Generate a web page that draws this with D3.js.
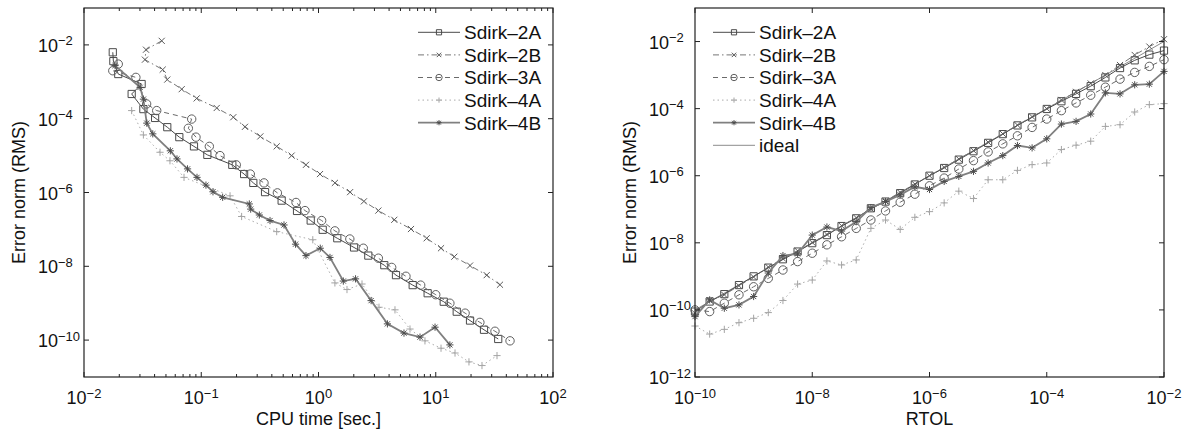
<!DOCTYPE html>
<html>
<head>
<meta charset="utf-8">
<script src="https://cdn.jsdelivr.net/npm/d3@7"></script>
<style>
  body { margin: 0; background: #fff; }
  svg text { font-family: "Liberation Sans", Arial, Helvetica, sans-serif; fill: #111; }
</style>
</head>
<body>
<svg id="chart" width="1188" height="435"></svg>
<script>
// ---- left panel: CPU time [sec.] vs error (errors kept as log10 exponents)
var time2A = [0.0176, 0.0178, 0.0196, 0.0310, 0.0255, 0.0321, 0.0404, 0.0513, 0.0650, 0.0867, 0.1127, 0.184, 0.232, 0.278, 0.350, 0.485, 0.656, 0.858, 1.086, 1.446, 2.01, 2.66, 3.64, 4.58, 6.36, 8.53, 11.7, 15.1, 19.6, 25.8, 34.1];
var err2A  = [-2.20, -2.44, -2.79, -3.06, -3.33, -3.74, -3.98, -4.23, -4.50, -4.75, -4.98, -5.25, -5.50, -5.74, -5.99, -6.22, -6.50, -6.76, -7.01, -7.24, -7.49, -7.71, -7.97, -8.24, -8.51, -8.73, -8.96, -9.23, -9.47, -9.72, -9.97];

var time2B = [0.0460, 0.0338, 0.0331, 0.0469, 0.0513, 0.0681, 0.0914, 0.1355, 0.1876, 0.236, 0.319, 0.440, 0.590, 0.782, 1.03, 1.38, 1.86, 2.44, 3.24, 4.43, 6.15, 8.37, 11.09, 14.4, 19.6, 27.2, 35.3];
var err2B  = [-1.89, -2.13, -2.40, -2.67, -2.94, -3.20, -3.45, -3.71, -3.96, -4.22, -4.48, -4.75, -5.00, -5.25, -5.50, -5.74, -5.99, -6.24, -6.49, -6.74, -6.99, -7.24, -7.51, -7.74, -7.98, -8.24, -8.50];

var time3A = [0.0196, 0.0176, 0.0277, 0.0342, 0.0417, 0.0829, 0.0776, 0.0902, 0.1172, 0.1445, 0.199, 0.262, 0.343, 0.446, 0.643, 0.767, 1.064, 1.38, 1.85, 2.41, 3.24, 4.21, 5.57, 7.44, 10.0, 13.2, 17.8, 23.8, 32.0, 43.0];
var err3A  = [-2.52, -2.70, -2.88, -3.60, -3.78, -4.01, -4.26, -4.50, -4.75, -5.00, -5.25, -5.50, -5.74, -6.01, -6.27, -6.49, -6.76, -7.04, -7.26, -7.51, -7.78, -8.03, -8.27, -8.51, -8.77, -9.00, -9.27, -9.52, -9.76, -10.02];

var time4A = [0.0255, 0.0321, 0.0445, 0.0541, 0.0713, 0.176, 0.221, 0.440, 0.894, 1.38, 1.75, 2.35, 3.28, 4.49, 6.03, 8.09, 11.09, 14.6, 19.2, 24.8, 33.3];
var err4A  = [-3.78, -4.44, -4.91, -5.14, -5.59, -6.09, -6.65, -7.06, -7.28, -8.45, -8.63, -8.48, -9.11, -9.18, -9.70, -10.02, -10.22, -10.35, -10.59, -10.69, -10.42];

var time4B = [0.0184, 0.0301, 0.0321, 0.0343, 0.0386, 0.0545, 0.0621, 0.0764, 0.0920, 0.1097, 0.1259, 0.1523, 0.257, 0.264, 0.313, 0.386, 0.508, 0.637, 0.782, 1.035, 1.253, 1.628, 2.07, 2.81, 3.87, 5.36, 7.34, 9.86, 13.2];
var err4B  = [-2.56, -3.15, -3.47, -4.12, -4.41, -4.87, -5.09, -5.36, -5.59, -5.80, -5.98, -6.13, -6.31, -6.45, -6.61, -6.76, -6.88, -7.40, -7.71, -7.51, -7.76, -8.40, -8.34, -8.93, -9.56, -9.81, -9.92, -9.65, -10.13];

// ---- right panel: RTOL vs error (log10 exponents)
var rtolExp = [-10, -9.75, -9.5, -9.25, -9, -8.75, -8.5, -8.25, -8, -7.75, -7.5, -7.25, -7, -6.75, -6.5, -6.25, -6, -5.75, -5.5, -5.25, -5, -4.75, -4.5, -4.25, -4, -3.75, -3.5, -3.25, -3, -2.75, -2.5, -2.25, -2];
var rtol2A = [-10.05, -9.75, -9.53, -9.26, -9.00, -8.74, -8.49, -8.26, -8.01, -7.77, -7.50, -7.27, -6.97, -6.77, -6.52, -6.26, -6.00, -5.77, -5.52, -5.27, -5.02, -4.76, -4.50, -4.26, -4.01, -3.78, -3.56, -3.33, -3.07, -2.79, -2.56, -2.39, -2.27];
var rtol2B = [-10.10, -9.72, -9.55, -9.28, -9.02, -8.72, -8.47, -8.24, -7.99, -7.75, -7.49, -7.25, -6.99, -6.75, -6.50, -6.25, -6.00, -5.75, -5.50, -5.25, -5.00, -4.75, -4.49, -4.24, -4.00, -3.74, -3.50, -3.25, -3.00, -2.70, -2.40, -2.15, -1.93];
var rtol3A = [-10.00, -10.05, -9.80, -9.55, -9.31, -9.06, -8.81, -8.56, -8.31, -8.06, -7.82, -7.57, -7.32, -7.05, -6.79, -6.55, -6.30, -6.07, -5.80, -5.55, -5.29, -5.05, -4.81, -4.56, -4.31, -4.06, -3.83, -3.60, -3.36, -3.12, -2.92, -2.74, -2.54];
var rtol4A = [-10.48, -10.72, -10.58, -10.38, -10.25, -10.08, -9.72, -9.23, -9.11, -8.54, -8.66, -8.51, -7.57, -7.32, -7.60, -7.24, -7.07, -6.81, -6.46, -6.68, -6.12, -6.12, -5.84, -5.67, -5.62, -5.22, -5.09, -4.97, -4.53, -4.48, -4.10, -3.88, -3.85];
var rtol4B = [-10.20, -9.70, -9.95, -9.85, -9.60, -8.90, -8.38, -8.33, -7.77, -7.53, -7.65, -7.37, -6.95, -6.77, -6.57, -6.33, -6.41, -6.17, -6.02, -5.87, -5.62, -5.40, -5.10, -5.17, -4.90, -4.46, -4.38, -4.16, -3.53, -3.56, -3.29, -3.27, -2.89];
var idealExp = [-10, -2];

// tick labels (exponents of 10)
var leftXTicks = [-2, -1, 0, 1, 2];
var leftYTicks = [-10, -8, -6, -4, -2];
var rightXTicks = [-10, -8, -6, -4, -2];
var rightYTicks = [-12, -10, -8, -6, -4, -2];

var seriesNames = ["Sdirk-2A", "Sdirk-2B", "Sdirk-3A", "Sdirk-4A", "Sdirk-4B"];

var styles = {
    "Sdirk-2A": {color: "#4a4a4a", mcolor: "#4a4a4a", width: 1, dash: null, marker: "square"},
    "Sdirk-2B": {color: "#767676", mcolor: "#5a5a5a", width: 1, dash: "6,3,1.5,3", marker: "cross"},
    "Sdirk-3A": {color: "#6a6a6a", mcolor: "#5e5e5e", width: 1, dash: "5,4", marker: "circle"},
    "Sdirk-4A": {color: "#acacac", mcolor: "#a4a4a4", width: 1, dash: "1.5,3", marker: "plus"},
    "Sdirk-4B": {color: "#808080", mcolor: "#4e4e4e", width: 1.8, dash: null, marker: "star"},
    "ideal":    {color: "#8c8c8c", mcolor: "#8c8c8c", width: 1, dash: null, marker: null}
};

var svg = d3.select("#chart");

function pow10(v) { return Math.pow(10, v); }

function drawMarker(g, type, x, y, color, s) {
    if (type === "circle") {
        g.append("circle").attr("cx", x).attr("cy", y).attr("r", s + 0.6)
            .attr("fill", "none").attr("stroke", color).attr("stroke-width", 1);
        return;
    }
    var p = d3.path();
    if (type === "square") {
        p.rect(x - s, y - s, 2 * s, 2 * s);
    } else if (type === "cross") {
        var c = s * 0.85;
        p.moveTo(x - c, y - c); p.lineTo(x + c, y + c);
        p.moveTo(x - c, y + c); p.lineTo(x + c, y - c);
    } else if (type === "plus") {
        p.moveTo(x - s, y); p.lineTo(x + s, y);
        p.moveTo(x, y - s); p.lineTo(x, y + s);
    } else if (type === "star") {
        var d = s * 0.72;
        p.moveTo(x - s, y); p.lineTo(x + s, y);
        p.moveTo(x, y - s); p.lineTo(x, y + s);
        p.moveTo(x - d, y - d); p.lineTo(x + d, y + d);
        p.moveTo(x - d, y + d); p.lineTo(x + d, y - d);
    }
    g.append("path").attr("d", p.toString()).attr("fill", "none")
        .attr("stroke", color).attr("stroke-width", 1);
}

function powLabel(g, x, y, exp, anchor) {
    var t = g.append("text").attr("x", x).attr("y", y)
        .attr("text-anchor", anchor).style("font-size", "18px");
    t.append("tspan").text("10");
    t.append("tspan").attr("dy", -6.5).style("font-size", "13px")
        .text(exp < 0 ? "\u2212" + (-exp) : String(exp));
}

function drawPanel(opt) {
    var g = svg.append("g");
    var x = d3.scaleLog().domain(opt.xDomain).range([opt.x0, opt.x1]);
    var y = d3.scaleLog().domain(opt.yDomain).range([opt.y1, opt.y0]);

    // series
    opt.series.forEach(function(s) {
        var st = styles[s.name];
        var pts = s.xs.map(function(v, i) { return [x(v), y(pow10(s.ys[i]))]; });
        g.append("path")
            .attr("d", d3.line()(pts))
            .attr("fill", "none")
            .attr("stroke", st.color)
            .attr("stroke-width", st.width)
            .attr("stroke-dasharray", st.dash);
        if (st.marker) {
            var mg = g.append("g");
            pts.forEach(function(p) { drawMarker(mg, st.marker, p[0], p[1], st.mcolor, 3.6); });
        }
    });

    // frame
    g.append("rect").attr("x", opt.x0).attr("y", opt.y0)
        .attr("width", opt.x1 - opt.x0).attr("height", opt.y1 - opt.y0)
        .attr("fill", "none").attr("stroke", "#222").attr("stroke-width", 1.2);

    // x ticks
    opt.xTicks.forEach(function(e) {
        var px = x(pow10(e));
        g.append("line").attr("x1", px).attr("x2", px).attr("y1", opt.y1).attr("y2", opt.y1 - 5).attr("stroke", "#222");
        g.append("line").attr("x1", px).attr("x2", px).attr("y1", opt.y0).attr("y2", opt.y0 + 5).attr("stroke", "#222");
        powLabel(g, px, opt.y1 + 27, e, "middle");
    });
    if (opt.minorX) {
        for (var e = Math.log10(opt.xDomain[0]); e < Math.log10(opt.xDomain[1]); e++) {
            for (var m = 2; m <= 9; m++) {
                var px = x(m * pow10(e));
                g.append("line").attr("x1", px).attr("x2", px).attr("y1", opt.y1).attr("y2", opt.y1 - 3).attr("stroke", "#222");
                g.append("line").attr("x1", px).attr("x2", px).attr("y1", opt.y0).attr("y2", opt.y0 + 3).attr("stroke", "#222");
            }
        }
    }

    // y ticks
    opt.yTicks.forEach(function(e) {
        var py = y(pow10(e));
        g.append("line").attr("x1", opt.x0).attr("x2", opt.x0 + 5).attr("y1", py).attr("y2", py).attr("stroke", "#222");
        g.append("line").attr("x1", opt.x1).attr("x2", opt.x1 - 5).attr("y1", py).attr("y2", py).attr("stroke", "#222");
        powLabel(g, opt.x0 - 46, py + 7, e, "start");
    });

    // axis titles
    g.append("text").attr("x", (opt.x0 + opt.x1) / 2).attr("y", 425)
        .attr("text-anchor", "middle").style("font-size", "18px").text(opt.xLabel);
    g.append("text")
        .attr("transform", "translate(" + (opt.x0 - 59) + "," + ((opt.y0 + opt.y1) / 2) + ") rotate(-90)")
        .attr("text-anchor", "middle").style("font-size", "18px").text("Error norm (RMS)");

    // legend
    var lg = g.append("g");
    opt.legend.forEach(function(name, i) {
        var st = styles[name];
        var ly = opt.legY + i * 22.6;
        lg.append("line").attr("x1", opt.legX).attr("x2", opt.legX + 42)
            .attr("y1", ly).attr("y2", ly)
            .attr("stroke", st.color).attr("stroke-width", st.width)
            .attr("stroke-dasharray", st.dash);
        if (st.marker) drawMarker(lg, st.marker, opt.legX + 21, ly, st.mcolor, 2.6);
        lg.append("text").attr("x", opt.legX + 46).attr("y", ly + 6.8)
            .style("font-size", "19px").text(name.replace("-", "\u2013"));
    });
}

drawPanel({
    x0: 84, x1: 553, y0: 8, y1: 377,
    xDomain: [1e-2, 1e2], yDomain: [1e-11, 1e-1],
    xTicks: leftXTicks, yTicks: leftYTicks, minorX: true,
    xLabel: "CPU time [sec.]",
    legX: 418, legY: 32.3, legend: seriesNames,
    series: [
        {name: "Sdirk-2A", xs: time2A, ys: err2A},
        {name: "Sdirk-2B", xs: time2B, ys: err2B},
        {name: "Sdirk-3A", xs: time3A, ys: err3A},
        {name: "Sdirk-4A", xs: time4A, ys: err4A},
        {name: "Sdirk-4B", xs: time4B, ys: err4B}
    ]
});

var rtol = rtolExp.map(pow10);
drawPanel({
    x0: 695, x1: 1164, y0: 8, y1: 377,
    xDomain: [1e-10, 1e-2], yDomain: [1e-12, 1e-1],
    xTicks: rightXTicks, yTicks: rightYTicks, minorX: false,
    xLabel: "RTOL",
    legX: 713, legY: 32.3, legend: seriesNames.concat(["ideal"]),
    series: [
        {name: "ideal", xs: idealExp.map(pow10), ys: idealExp},
        {name: "Sdirk-2A", xs: rtol, ys: rtol2A},
        {name: "Sdirk-2B", xs: rtol, ys: rtol2B},
        {name: "Sdirk-3A", xs: rtol, ys: rtol3A},
        {name: "Sdirk-4A", xs: rtol, ys: rtol4A},
        {name: "Sdirk-4B", xs: rtol, ys: rtol4B}
    ]
});
</script>
</body>
</html>
